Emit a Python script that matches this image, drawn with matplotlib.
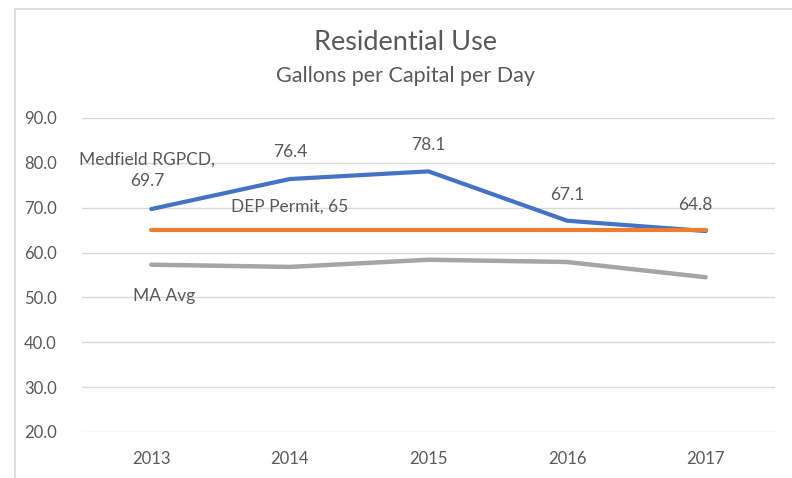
import matplotlib
matplotlib.use("Agg")
import matplotlib.pyplot as plt
from matplotlib.patches import Rectangle

years = ["2013", "2014", "2015", "2016", "2017"]
medfield = [69.7, 76.4, 78.1, 67.1, 64.8]
dep_permit = [65, 65, 65, 65, 65]
ma_avg = [57.3, 56.8, 58.4, 57.9, 54.5]
yticks = [20, 30, 40, 50, 60, 70, 80, 90]

plt.rcParams['font.family'] = ['Lato', 'DejaVu Sans']
txt = '#595959'

fig = plt.figure(figsize=(7.92, 4.78), dpi=100)
ax = fig.add_axes([82/792, 1-432/478, (775-82)/792, (432-118)/478])

x = list(range(len(years)))
ax.plot(x, ma_avg, color='#A5A5A5', lw=3.2, solid_capstyle='round', zorder=3)
ax.plot(x, medfield, color='#4472C4', lw=3.0, solid_capstyle='round', zorder=4)
ax.plot(x, dep_permit, color='#ED7D31', lw=3.0, solid_capstyle='round', zorder=5)

ax.set_xlim(-0.5, len(years) - 0.5)
ax.set_ylim(20, 90)
ax.set_yticks(yticks)
ax.set_yticklabels([f"{v:.1f}" for v in yticks])
ax.set_xticks(x)
ax.set_xticklabels(years)
ax.grid(axis='y', color='#D9D9D9', lw=1.0)
ax.set_axisbelow(True)
for s in ax.spines.values():
    s.set_visible(False)
ax.tick_params(axis='both', length=0, labelsize=12, colors=txt)
ax.tick_params(axis='x', pad=14)
ax.tick_params(axis='y', pad=18)

fs = 12.5
# Medfield labels
ax.annotate(f"Medfield RGPCD,\n{medfield[0]}", (x[0], medfield[0]), xytext=(-4, 39),
            textcoords='offset pixels', ha='center', va='center', fontsize=fs, color=txt,
            linespacing=1.45)
offs = [None, 27, 26, 26, 26]
for i in range(1, len(years)):
    dx = -10 if i == 4 else 0
    ax.annotate(f"{medfield[i]}", (x[i], medfield[i]), xytext=(dx, offs[i]),
                textcoords='offset pixels', ha='center', va='center', fontsize=fs, color=txt)
ax.annotate(f"DEP Permit, {dep_permit[1]}", (x[1], dep_permit[1]), xytext=(0, 24),
            textcoords='offset pixels', ha='center', va='center', fontsize=fs, color=txt)
ax.annotate("MA Avg", (x[0], ma_avg[0]), xytext=(13, -31),
            textcoords='offset pixels', ha='center', va='center', fontsize=fs, color=txt)

fig.text(405/792, 1-43/478, "Residential Use", ha='center', va='center', fontsize=19.5, color=txt)
fig.text(405/792, 1-76/478, "Gallons per Capital per Day", ha='center', va='center', fontsize=15.5, color=txt)

fig.patches.append(Rectangle((15/792, -0.1), 1.0, 1 - 9/478 + 0.1, transform=fig.transFigure,
                             fill=False, edgecolor='#D9D9D9', lw=1.2))

fig.savefig("out.png", dpi=100, facecolor='white')
